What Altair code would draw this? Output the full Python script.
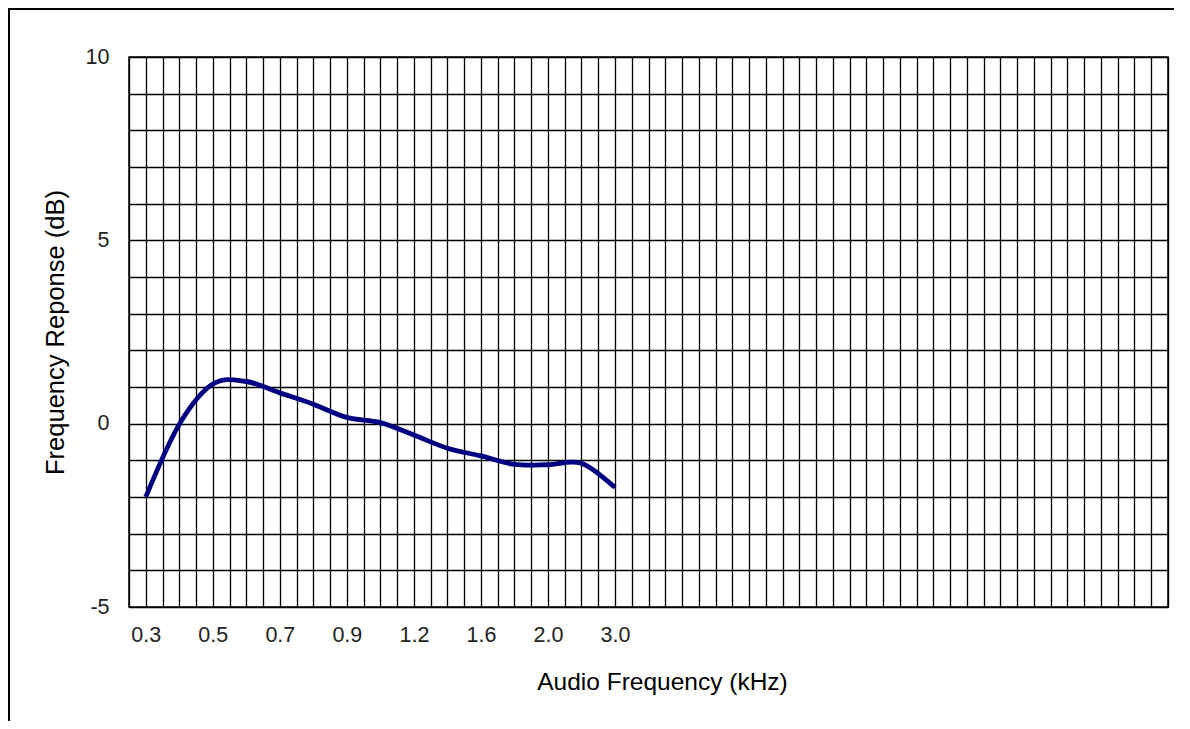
import altair as alt
import pandas as pd

# Categories (kHz) and measured response (dB)
freq_labels = ["0.3", "0.4", "0.5", "0.6", "0.7", "0.8", "0.9", "1.0",
               "1.2", "1.4", "1.6", "1.8", "2.0", "2.5", "3.0"]
response_db = [-2.0, -0.02, 1.08, 1.15, 0.84, 0.53, 0.17, 0.03,
               -0.31, -0.67, -0.88, -1.11, -1.12, -1.08, -1.74]
n_slots = 31           # category slots on the axis (most empty)
y_ticks = list(range(-5, 11))

df = pd.DataFrame({
    "freq": freq_labels,
    "idx": list(range(len(freq_labels))),
    "db": response_db,
})

W, H = 1039, 550
FONT = "Liberation Sans"

grid_vals = [k * 0.5 for k in range(2 * n_slots + 1)]
label_arr = "[" + ",".join("'" + f + "'" for f in freq_labels) + "]"
x_label_expr = (
    "(datum.value - floor(datum.value) == 0.5 && floor(datum.value) % 2 == 0 "
    "&& floor(datum.value) < " + str(len(freq_labels)) + ") ? "
    + label_arr + "[floor(datum.value)] : ''"
)

line = alt.Chart(df).transform_calculate(
    pos="datum.idx + 0.5"
).mark_line(
    color="#000080", strokeWidth=4.8, interpolate="cardinal"
).encode(
    x=alt.X("pos:Q",
            scale=alt.Scale(domain=[0, n_slots], nice=False, zero=False),
            axis=alt.Axis(values=grid_vals, labelExpr=x_label_expr,
                          title="Audio Frequency (kHz)",
                          grid=True, gridColor="#000000", gridWidth=1.3, gridOpacity=1,
                          ticks=False, domain=False,
                          labelFont=FONT, labelFontSize=21.5, labelColor="#222222",
                          labelPadding=17, labelAngle=0, labelOverlap=False,
                          labelFlush=False,
                          titleFont=FONT, titleFontSize=24.5, titleFontWeight="normal",
                          titleColor="#000000", titleX=533, titleY=82,
                          titleAlign="center", titleBaseline="alphabetic")),
    y=alt.Y("db:Q",
            scale=alt.Scale(domain=[-5, 10], nice=False, zero=False),
            axis=alt.Axis(values=y_ticks,
                          labelExpr="datum.value % 5 == 0 ? toString(datum.value) : ''",
                          title="Frequency Reponse (dB)",
                          grid=True, gridColor="#000000", gridWidth=1.4, gridOpacity=1,
                          ticks=False, domain=False,
                          labelFont=FONT, labelFontSize=21.5, labelColor="#222222",
                          labelPadding=20, labelOverlap=False, labelFlush=False,
                          titleFont=FONT, titleFontSize=25.5, titleFontWeight="normal",
                          titleColor="#000000", titleX=-66, titleY=275,
                          titleAlign="center", titleBaseline="alphabetic")),
)

one = pd.DataFrame({"k": [0]})
frame_left = alt.Chart(one).mark_rule(color="#000000", strokeWidth=2).encode(
    x=alt.value(-120), y=alt.value(-48), y2=alt.value(H + 300),
)
frame_top = alt.Chart(one).mark_rule(color="#000000", strokeWidth=2).encode(
    x=alt.value(-121), x2=alt.value(W + 200), y=alt.value(-48),
)

chart = alt.layer(frame_left, frame_top, line).properties(
    width=W, height=H,
    autosize=alt.AutoSizeParams(type="none"),
    padding={"left": 121, "top": 49, "right": 6, "bottom": 114},
    background="white",
).configure_view(
    stroke="#000000", strokeWidth=1.5
)

chart.save("out.html", embed_options={"renderer": "svg", "actions": False})
